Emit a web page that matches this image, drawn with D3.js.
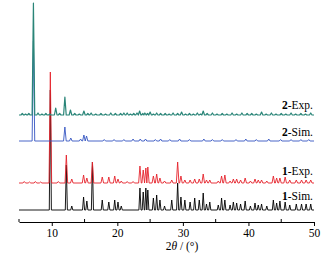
<!DOCTYPE html>
<html><head><meta charset="utf-8">
<script src="https://cdn.jsdelivr.net/npm/d3@7"></script>
<style>
html,body{margin:0;padding:0;background:#fff;}
svg{display:block;font-family:"Liberation Serif","Times New Roman",serif;}
</style></head>
<body><svg id="c" width="334" height="258"></svg>
<script>
// ---- data (2θ in degrees, peak heights in arbitrary counts) ----
const majorTicks = [10, 20, 30, 40, 50];
const minorTicks = [5, 15, 25, 35, 45];

const sim1Pos = [9.78, 12.22, 13.05, 14.85, 15.35, 16.2, 17.7, 18.7, 19.6, 20.1, 20.6, 23.45, 23.95, 24.35, 24.65, 25.5, 26.0, 26.5, 27.2, 28.3, 29.2, 29.7, 30.3, 31.1, 31.8, 32.5, 33.1, 33.6, 34.1, 35.4, 35.9, 36.4, 37.2, 37.7, 38.2, 38.8, 39.5, 40.3, 41.0, 41.5, 42.0, 42.8, 43.8, 44.3, 44.8, 45.6, 46.3, 47.3, 48.1, 48.8, 49.5];
const sim1H   = [120, 45, 4, 13, 9, 48, 10, 8, 10, 8, 4, 22, 18, 22, 20, 12, 15, 10, 4, 10, 27, 13, 10, 8, 12, 10, 17, 6, 8, 5, 12, 10, 5, 8, 7, 6, 9, 4, 7, 5, 6, 4, 10, 7, 9, 8, 5, 6, 6, 6, 6];

const exp1Pos = [5.8, 6.6, 7.5, 8.3, 9.78, 11.0, 12.22, 13.05, 14.85, 15.35, 16.2, 17.7, 18.7, 19.6, 20.1, 20.6, 21.5, 22.4, 23.45, 23.95, 24.35, 24.65, 25.5, 26.0, 26.5, 27.2, 28.3, 29.2, 29.7, 30.3, 31.1, 31.8, 32.5, 33.1, 33.6, 34.1, 35.4, 35.9, 36.4, 37.2, 37.7, 38.2, 38.8, 39.5, 40.3, 41.0, 41.5, 42.0, 42.8, 43.8, 44.3, 44.8, 45.6, 46.3, 47.3, 48.1, 48.8, 49.5];
const exp1H   = [1.5, 1, 1.5, 1, 111, 1.5, 28, 4, 8, 5, 21, 6, 6, 7, 4, 2, 1.5, 1.5, 17, 13, 15, 16, 7, 9, 5, 2, 3, 21, 7, 3, 3, 4, 4, 9, 3, 3, 2, 7, 8, 2, 4, 4, 3, 5, 2, 4, 3, 3, 2, 7, 5, 5, 6, 3, 3, 3, 3, 3];

const sim2Pos = [7.2, 12.0, 12.9, 14.4, 14.9, 15.3, 18.0, 19.5, 21.0, 22.4, 23.5, 24.3, 25.8, 26.6, 28.0, 29.5, 31.0, 33.2, 34.5, 36.0, 38.1, 39.6, 41.2, 43.1, 44.9, 46.5, 48.0, 49.2];
const sim2H   = [100, 14, 3, 2, 6, 5, 1.5, 1.5, 1.5, 2, 2, 2, 1.5, 2, 1.5, 2, 1.5, 2, 1.5, 1.5, 1.5, 2, 1.5, 2, 1.5, 1.5, 1.5, 1.5];

const exp2Pos = [5.5, 6.0, 6.5, 7.2, 7.9, 8.5, 9.1, 9.7, 10.6, 11.2, 12.0, 12.85, 13.5, 14.2, 14.9, 15.5, 16.0, 16.7, 17.5, 18.2, 19.0, 19.7, 20.5, 21.0, 21.5, 22.0, 22.5, 23.0, 23.4, 23.9, 24.2, 24.6, 25.0, 25.5, 26.0, 26.6, 27.3, 27.9, 28.5, 29.2, 29.8, 30.4, 31.0, 31.6, 32.2, 32.7, 33.1, 33.7, 34.5, 35.2, 36.0, 36.7, 37.5, 38.2, 39.0, 39.8, 40.5, 41.2, 42.0, 42.7, 43.5, 44.2, 45.0, 45.7, 46.5, 47.2, 48.0, 48.7, 49.5];
const exp2H   = [1.5, 1, 1.5, 112, 2, 1, 1.5, 1, 7, 1.5, 18, 5, 1.5, 1, 4, 1.5, 2, 1, 1.5, 1, 2, 1.5, 1.5, 2, 2, 1, 1.5, 2, 4, 1.5, 2, 1.5, 3, 1, 2, 1.5, 1.5, 1, 2, 1.5, 3, 1, 1.5, 1, 2, 1, 4, 1.5, 2, 1, 1.5, 1, 2, 1, 2, 1.5, 1.5, 1, 3, 1, 2, 1, 1.5, 1, 2, 1, 1.5, 1, 2];

const seriesNames = ["1-Sim.", "1-Exp.", "2-Sim.", "2-Exp."];
const seriesOffsets = [12, 39, 81, 107];
const seriesColors = ["#000000", "#e5232b", "#3556c2", "#2a8578"];
const seriesHalfWidth = [0.16, 0.2, 0.2, 0.2];
const seriesPos = [sim1Pos, exp1Pos, sim2Pos, exp2Pos];
const seriesH = [sim1H, exp1H, sim2H, exp2H];
const labelY = [200, 175, 136, 108.5];

// ---- layout ----
const svg = d3.select("#c");
const x = d3.scaleLinear().domain([5, 50]).range([19, 314]);
const y = d3.scaleLinear().domain([0, 220]).range([222, 2]);

// peaks drawn as narrow spikes; base points never cross the neighbour's
function profile(pos, h, off, hw) {
  const pts = [[5, off]];
  pos.forEach((p, i) => {
    const gl = i > 0 ? (p - pos[i - 1]) / 2 : hw;
    const gr = i < pos.length - 1 ? (pos[i + 1] - p) / 2 : hw;
    pts.push([p - Math.min(hw, gl), off]);
    pts.push([p, off + h[i]]);
    pts.push([p + Math.min(hw, gr), off]);
  });
  pts.push([50, off]);
  return pts;
}

const line = d3.line().x(d => x(d[0])).y(d => y(d[1]));

seriesNames.forEach((n, i) => {
  svg.append("path")
    .attr("d", line(profile(seriesPos[i], seriesH[i], seriesOffsets[i], seriesHalfWidth[i])))
    .attr("fill", "none")
    .attr("stroke", seriesColors[i])
    .attr("stroke-width", i === 3 ? 1.2 : 0.9)
    .attr("stroke-linejoin", "round");
});

// labels
seriesNames.forEach((n, i) => {
  const parts = n.split("-");
  const t = svg.append("text")
    .attr("x", 313).attr("y", labelY[i])
    .attr("text-anchor", "end")
    .attr("font-size", 11.5);
  t.append("tspan").attr("font-weight", "bold").text(parts[0]);
  t.append("tspan").text("-" + parts[1]);
});

// x axis
const axisY = 222;
const ax = svg.append("g").attr("transform", `translate(0,${axisY})`)
  .call(d3.axisBottom(x).tickValues(majorTicks).tickSize(4).tickSizeOuter(0).tickPadding(3).tickFormat(d3.format("d")));
ax.selectAll("text").attr("font-size", 11.5).attr("font-family", "Liberation Serif").attr("fill", "#000");
ax.select(".domain").attr("stroke", "#000");
ax.selectAll(".tick line").attr("stroke", "#000");
svg.append("g").selectAll("line").data(minorTicks).join("line")
  .attr("x1", d => x(d)).attr("x2", d => x(d))
  .attr("y1", axisY).attr("y2", axisY - 3)
  .attr("stroke", "#000");

const lab = svg.append("text").attr("x", 182).attr("y", 250)
  .attr("text-anchor", "middle").attr("font-size", 11.5);
lab.append("tspan").text("2");
lab.append("tspan").attr("font-style", "italic").text("θ");
lab.append("tspan").text(" / (°)");
</script></body></html>
